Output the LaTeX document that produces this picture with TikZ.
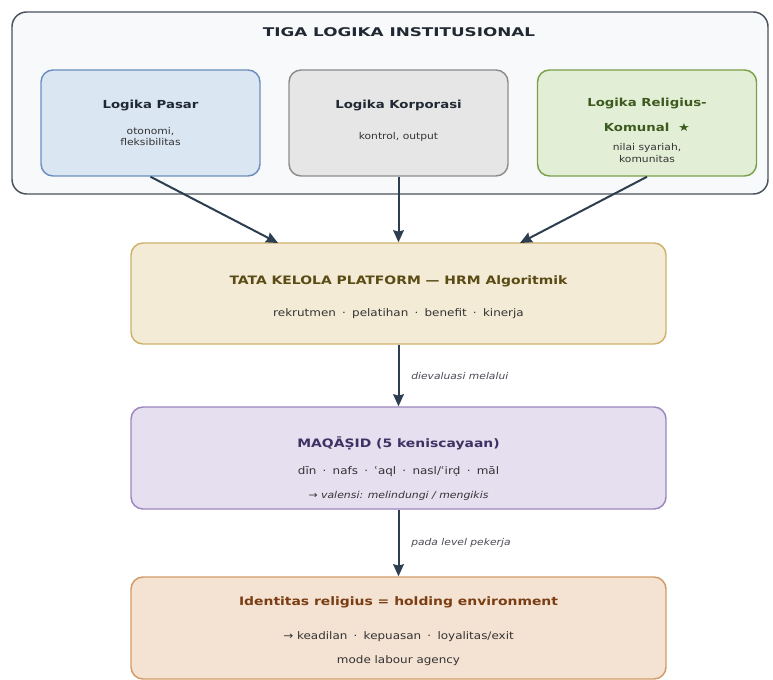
\documentclass[tikz,border=0pt]{standalone}
\usepackage{fontspec}
\setmainfont{DejaVu Sans}
\newfontfamily\wideA{DejaVu Sans}[FakeStretch=1.2]
\newfontfamily\wideB{DejaVu Sans}[FakeStretch=1.4]
\newfontfamily\wideC{DejaVu Sans}[FakeStretch=1.15]
\usetikzlibrary{arrows.meta}
\definecolor{outerfill}{HTML}{F8F9FA}
\definecolor{outerdraw}{HTML}{4A525C}
\definecolor{bluefill}{HTML}{DAE6F2}
\definecolor{bluedraw}{HTML}{6C8EBF}
\definecolor{grayfill}{HTML}{E6E6E6}
\definecolor{graydraw}{HTML}{8C8C8C}
\definecolor{greenfill}{HTML}{E2EFD6}
\definecolor{greendraw}{HTML}{7BA04A}
\definecolor{goldfill}{HTML}{F3EBD6}
\definecolor{golddraw}{HTML}{CFB26A}
\definecolor{purpfill}{HTML}{E5DFF0}
\definecolor{purpdraw}{HTML}{9B86BF}
\definecolor{peachfill}{HTML}{F4E2D3}
\definecolor{peachdraw}{HTML}{D49A66}
\definecolor{arrowc}{HTML}{2C3E50}
\definecolor{darktxt}{HTML}{1F2833}
\definecolor{greentxt}{HTML}{3C5A1E}
\definecolor{goldtxt}{HTML}{5A4A14}
\definecolor{purptxt}{HTML}{3E3262}
\definecolor{peachtxt}{HTML}{7A3E12}
\definecolor{subtxt}{HTML}{333333}
\definecolor{lbltxt}{HTML}{4A4A55}
\newcommand\sepdot{\hspace{0.6em}·\hspace{0.6em}}
\tikzset{
  panel/.style={draw, rounded corners=9pt, line width=1.1pt, inner sep=0pt},
  smallbox/.style={panel, minimum width=164.25pt, minimum height=79.5pt},
  bigbox/.style={panel, minimum width=401.25pt, minimum height=76pt},
  ttl/.style={font=\wideA\bfseries\fontsize{8.3}{10}\selectfont, inner sep=0pt},
  bigttl/.style={font=\wideA\bfseries\fontsize{8.7}{10}\selectfont, inner sep=0pt},
  sub/.style={font=\wideC\fontsize{7}{8.3}\selectfont, text=subtxt, align=center, inner sep=0pt},
  bigsub/.style={font=\wideC\fontsize{7.8}{10}\selectfont, text=subtxt, inner sep=0pt},
  lbl/.style={font=\wideC\itshape\fontsize{7}{10}\selectfont, text=lbltxt, inner sep=0pt, anchor=west},
  arr/.style={draw=arrowc, line width=1.5pt, -{Stealth[length=9pt, width=8pt, inset=1pt]}}
}
\begin{document}
\begin{tikzpicture}[x=0.75pt, y=-0.75pt]
\useasboundingbox (0,0) rectangle (773,680);
\fill[white] (0,0) rectangle (773,680);

% outer panel
\node[panel, fill=outerfill, draw=outerdraw, rounded corners=11pt, minimum width=567pt, minimum height=136.5pt] (outer) at (390,103) {};
\node[font=\wideB\bfseries\fontsize{9}{11}\selectfont, text=darktxt, inner sep=0pt] (ttiga) at (399,32) {TIGA LOGIKA INSTITUSIONAL};

% three logic boxes
\node[smallbox, fill=bluefill, draw=bluedraw] (pasar) at (150.5,123) {};
\node[ttl, text=darktxt] (tpasar) at (150.5,105) {Logika Pasar};
\node[sub] (spasar) at (150.5,136.5) {otonomi,\\fleksibilitas};

\node[smallbox, fill=grayfill, draw=graydraw] (korp) at (398.5,123) {};
\node[ttl, text=darktxt] (tkorp) at (398.5,105) {Logika Korporasi};
\node[sub] (skorp) at (398.5,137) {kontrol, output};

\node[smallbox, fill=greenfill, draw=greendraw] (rel) at (647,123) {};
\node[ttl, text=greentxt] (trel1) at (647,103) {Logika Religius-};
\node[ttl, text=greentxt] (trel2) at (647,127) {Komunal\hspace{0.8em}★};
\node[sub] (srel) at (647,153) {nilai syariah,\\komunitas};

% tata kelola
\node[bigbox, fill=goldfill, draw=golddraw, minimum height=75.75pt] (tk) at (398.5,293.5) {};
\node[bigttl, text=goldtxt] (ttk) at (398.5,281) {TATA KELOLA PLATFORM — HRM Algoritmik};
\node[bigsub] (stk) at (398.5,314) {rekrutmen\sepdot pelatihan\sepdot benefit\sepdot kinerja};

% maqasid
\node[bigbox, fill=purpfill, draw=purpdraw, minimum height=76.5pt] (mq) at (398.5,458) {};
\node[bigttl, text=purptxt] (tmq) at (398.5,443) {MAQĀṢID (5 keniscayaan)};
\node[bigsub] (smq) at (398.5,472) {dīn\sepdot nafs\sepdot ʿaql\sepdot nasl/ʿirḍ\sepdot māl};
\node[font=\wideC\itshape\fontsize{7.1}{10}\selectfont, text=subtxt, inner sep=0pt] (vmq) at (398.5,496) {→ valensi: melindungi / mengikis};

% identitas
\node[bigbox, fill=peachfill, draw=peachdraw, minimum height=76.5pt] (id) at (398.5,628) {};
\node[bigttl, text=peachtxt] (tid) at (398.5,602) {Identitas religius = holding environment};
\node[bigsub] (sid) at (398.5,637) {→ keadilan\sepdot kepuasan\sepdot loyalitas/exit};
\node[bigsub] (mid) at (398.5,661) {mode labour agency};

% connectors
\coordinate (t1) at (278,243);
\coordinate (t3) at (520,243);
\draw[arr] (pasar.south) -- (t1);
\draw[arr] (korp.south) -- (tk.north);
\draw[arr] (rel.south) -- (t3);
\draw[arr] (tk.south) -- (mq.north);
\draw[arr] (mq.south) -- (id.north);
\node[lbl] (l1) at (411,376) {dievaluasi melalui};
\node[lbl] (l2) at (411,543) {pada level pekerja};
\end{tikzpicture}
\end{document}
